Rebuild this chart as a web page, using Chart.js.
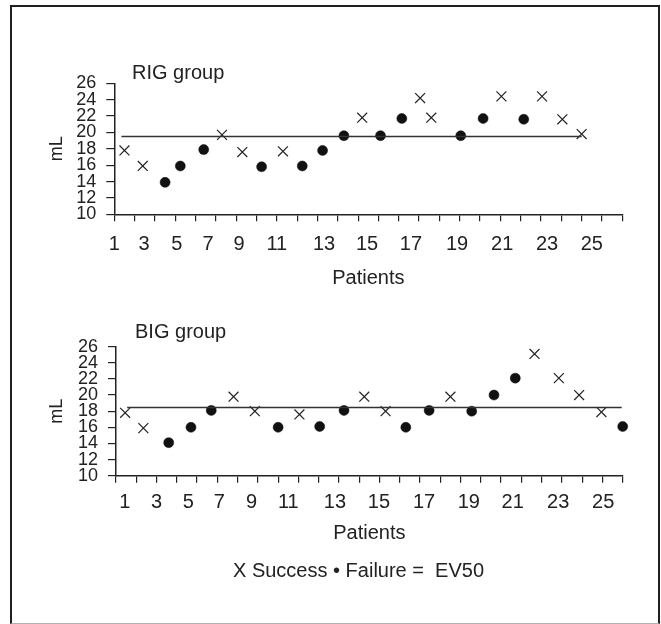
<!DOCTYPE html>
<html>
<head>
<meta charset="utf-8">
<title>RIG / BIG group</title>
<script src="https://cdn.jsdelivr.net/npm/chart.js@4.4.1/dist/chart.umd.min.js"></script>
<style>
  body { margin: 0; background: #fff; font-family: "Liberation Sans", Arial, sans-serif; color: #222; }
  #marco { position: absolute; left: 10px; top: 5px; width: 650px; height: 619px; box-sizing: border-box;
           border: 2px solid #231f20; border-bottom: 1px solid #b0b0b0; }
  canvas { position: absolute; left: 0; }
  .texto { position: absolute; font-size: 20px; line-height: 24px; white-space: pre; color: #222; }
</style>
</head>
<body>
<div id="marco"></div>
<canvas id="rigChart" width="661" height="300" style="top:0"></canvas>
<canvas id="bigChart" width="661" height="324" style="top:300px"></canvas>
<div class="texto" style="left:132px;top:60px">RIG group</div>
<div class="texto" style="left:135px;top:319px">BIG group</div>
<div class="texto" style="left:233px;top:558px">X Success • Failure =  EV50</div>

<script>
// Datos (x = posicion del paciente en el eje, y = mL)
var etiquetasX = ['1', '3', '5', '7', '9', '11', '13', '15', '17', '19', '21', '23', '25'];

// RIG group
var rigExitoX = [0.5, 1.4, 5.3, 6.3, 8.3, 12.2, 15.05, 15.6, 19.05, 21.05, 22.05, 23.0];
var rigExitoY = [17.8, 15.9, 19.7, 17.6, 17.7, 21.8, 24.2, 21.8, 24.4, 24.4, 21.6, 19.8];
var rigFalloX = [2.5, 3.25, 4.4, 7.25, 9.25, 10.25, 11.3, 13.1, 14.15, 17.05, 18.15, 20.15];
var rigFalloY = [13.9, 15.9, 17.9, 15.8, 15.9, 17.8, 19.6, 19.6, 21.7, 19.6, 21.7, 21.6];
var rigEV50 = 19.5;
var rigLineaX = [0.35, 23.0];

// BIG group
var bigExitoX = [0.45, 1.35, 5.8, 6.85, 9.05, 12.25, 13.3, 16.5, 20.65, 21.85, 22.85, 23.95];
var bigExitoY = [17.8, 15.9, 19.8, 18.0, 17.6, 19.8, 18.0, 19.8, 25.1, 22.1, 20.0, 17.9];
var bigFalloX = [2.6, 3.7, 4.7, 8.0, 10.05, 11.25, 14.3, 15.45, 17.55, 18.65, 19.7, 25.0];
var bigFalloY = [14.1, 16.0, 18.1, 16.0, 16.1, 18.1, 16.0, 18.1, 18.0, 20.0, 22.1, 16.1];
var bigEV50 = 18.45;
var bigLineaX = [0.55, 24.95];

Chart.defaults.font.family = '"Liberation Sans", Arial, sans-serif';
Chart.defaults.color = '#222';

function puntos(xs, ys) {
    return xs.map(function(x, i) { return { x: x, y: ys[i] }; });
}

// Las etiquetas del eje x no caen sobre las marcas en el original
var rigEtiquetasEn = [0, 1.46, 3.08, 4.61, 6.14, 8.0, 10.32, 12.44, 14.6, 16.87, 19.09, 21.3, 23.5];
var bigEtiquetasEn = [0.44, 2.0, 3.57, 5.1, 6.69, 8.5, 10.8, 12.97, 15.2, 17.41, 19.57, 21.82, 24.04];

function crearPanel(id, d, caja) {
    var ctx = document.getElementById(id).getContext('2d');
    return new Chart(ctx, {
        type: 'scatter',
        data: {
            datasets: [
                {
                    label: 'EV50',
                    data: puntos(d.lineaX, [d.ev50, d.ev50]),
                    showLine: true,
                    borderColor: '#333',
                    borderWidth: 1.5,
                    pointRadius: 0,
                    clip: false
                },
                {
                    label: 'Success',
                    data: puntos(d.exitoX, d.exitoY),
                    pointStyle: 'crossRot',
                    pointRadius: 7,
                    borderColor: '#222',
                    borderWidth: 1.2,
                    clip: false
                },
                {
                    label: 'Failure',
                    data: puntos(d.falloX, d.falloY),
                    pointStyle: 'circle',
                    pointRadius: 5,
                    backgroundColor: '#111',
                    borderColor: '#111',
                    borderWidth: 0.5,
                    clip: false
                }
            ]
        },
        options: {
            responsive: false,
            animation: false,
            layout: { padding: { left: 0, right: caja.der, top: caja.arriba, bottom: caja.abajo } },
            plugins: { legend: { display: false }, tooltip: { enabled: false } },
            scales: {
                y: {
                    min: 10, max: 26,
                    afterFit: function(s) { s.width = caja.anchoY; },
                    ticks: { stepSize: 2, autoSkip: false, padding: 10, font: { size: 18 } },
                    grid: { drawOnChartArea: false, tickLength: 8, color: '#222', lineWidth: 1.2 },
                    border: { color: '#222', width: 1.5 },
                    title: { display: true, text: 'mL', font: { size: 18 }, padding: { top: 46, bottom: 0 } }
                },
                // marcas del eje (una por paciente)
                x: {
                    type: 'linear', axis: 'x', position: 'bottom', weight: 0,
                    min: 0, max: 25,
                    afterFit: function(s) { s.height = 7; },
                    ticks: { display: false, stepSize: 1 },
                    grid: { drawOnChartArea: false, tickLength: 7, color: '#222', lineWidth: 1.2 },
                    border: { color: '#222', width: 1.5 }
                },
                // etiquetas 1, 3, 5 ... y titulo
                xl: {
                    type: 'linear', axis: 'x', position: 'bottom', weight: 1,
                    min: 0, max: 25,
                    afterFit: function(s) { s.height = caja.altoEtiquetas; },
                    afterBuildTicks: function(s) {
                        s.ticks = d.etiquetasEn.map(function(v) { return { value: v }; });
                    },
                    ticks: {
                        autoSkip: false, maxRotation: 0, padding: caja.padEtiqueta,
                        font: { size: 20 },
                        callback: function(v, i) { return etiquetasX[i]; }
                    },
                    grid: { display: false, drawTicks: false },
                    border: { display: false },
                    title: { display: true, text: 'Patients', font: { size: 20 }, padding: { top: 0, bottom: 0 } }
                }
            }
        }
    });
}

crearPanel('rigChart', {
    exitoX: rigExitoX, exitoY: rigExitoY, falloX: rigFalloX, falloY: rigFalloY,
    ev50: rigEV50, lineaX: rigLineaX, etiquetasEn: rigEtiquetasEn
}, { der: 38.7, arriba: 83.3, abajo: 10, anchoY: 114.3, altoEtiquetas: 68.7, padEtiqueta: 11 });

crearPanel('bigChart', {
    exitoX: bigExitoX, exitoY: bigExitoY, falloX: bigFalloX, falloY: bigFalloY,
    ev50: bigEV50, lineaX: bigLineaX, etiquetasEn: bigEtiquetasEn
}, { der: 38.3, arriba: 46.7, abajo: 79, anchoY: 116, altoEtiquetas: 62.3, padEtiqueta: 8 });
</script>
</body>
</html>
